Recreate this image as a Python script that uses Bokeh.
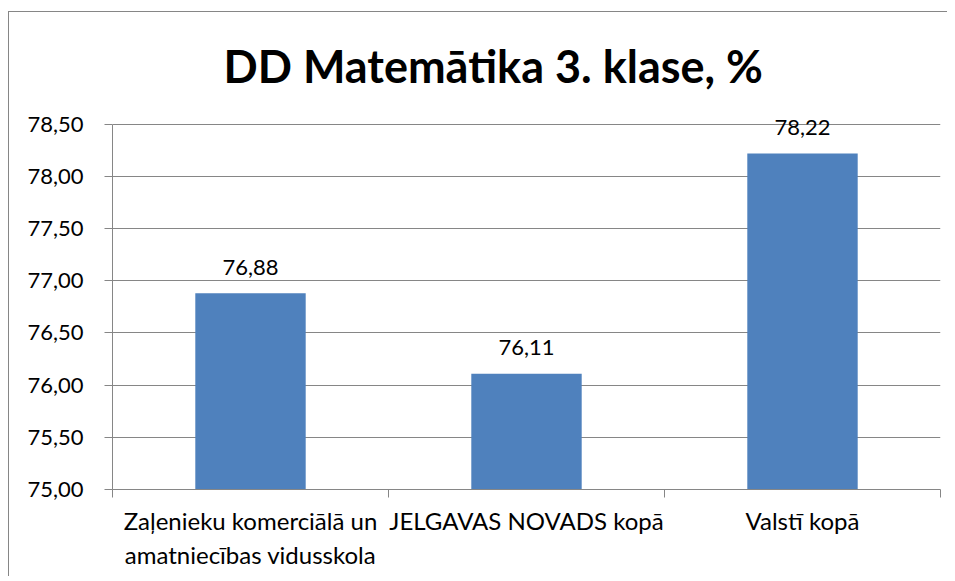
from bokeh.plotting import figure
from bokeh.models import FixedTicker, ColumnDataSource, LabelSet
from bokeh.embed import file_html
from bokeh.resources import INLINE
from bokeh.core.properties import value

categories = ["Zaļenieku komerciālā un\namatniecības vidusskola", "JELGAVAS NOVADS kopā", "Valstī kopā"]
values = [76.88, 76.11, 78.22]
value_labels = ["76,88", "76,11", "78,22"]
y_ticks = [75.0, 75.5, 76.0, 76.5, 77.0, 77.5, 78.0, 78.5]
y_tick_labels = ["75,00", "75,50", "76,00", "76,50", "77,00", "77,50", "78,00", "78,50"]

FONT = "Lato"
GRAY = "#868686"
BAR = "#4F81BD"

xs = [i + 0.5 for i in range(len(categories))]
src = ColumnDataSource(dict(x=xs, top=values, lab=value_labels))

p = figure(width=939, height=565, x_range=(0, len(categories)), y_range=(y_ticks[0], 78.65),
           output_backend="svg", toolbar_location=None, tools="",
           min_border_left=103, min_border_right=8, min_border_top=96, min_border_bottom=88,
           title="DD Matemātika 3. klase, %")
p.styles = {"margin-left": "8px", "margin-top": "11px",
            "border-left": "1px solid #868686", "border-top": "1px solid #868686"}
p.outline_line_color = None

p.title.text_font = FONT
p.title.text_font_size = "45px"
p.title.text_font_style = "bold"
p.title.text_color = "black"
p.title.align = "left"
p.title.offset = 111
p.title.standoff = 32

p.vbar(x="x", top="top", bottom=y_ticks[0], width=0.4, source=src, fill_color=BAR, line_color=None)
labels = LabelSet(x="x", y="top", text="lab", source=src, text_align="center", text_baseline="middle",
                  y_offset=26, text_font=value(FONT), text_font_size=value("22px"), text_color="black")
p.add_layout(labels)

# y axis
p.yaxis.ticker = FixedTicker(ticks=y_ticks)
p.yaxis.bounds = (y_ticks[0], y_ticks[-1])
p.yaxis.major_label_overrides = dict(zip(y_ticks, y_tick_labels))
p.yaxis.axis_line_color = GRAY
p.yaxis.major_tick_line_color = GRAY
p.yaxis.major_tick_out = 8
p.yaxis.major_tick_in = 0
p.yaxis.minor_tick_line_color = None
p.yaxis.major_label_standoff = 21
p.yaxis.major_label_text_font = FONT
p.yaxis.major_label_text_font_size = "22px"
p.yaxis.major_label_text_color = "black"

# x axis
p.xaxis.ticker = FixedTicker(ticks=xs, minor_ticks=list(range(len(categories) + 1)))
p.xaxis.major_label_overrides = dict(zip(xs, categories))
p.xaxis.axis_line_color = GRAY
p.xaxis.major_tick_line_color = None
p.xaxis.minor_tick_line_color = GRAY
p.xaxis.minor_tick_out = 8
p.xaxis.minor_tick_in = 0
p.xaxis.major_label_standoff = 8
p.xaxis.major_label_text_font = FONT
p.xaxis.major_label_text_font_size = "24px"
p.xaxis.major_label_text_line_height = 1.2
p.xaxis.major_label_text_color = "black"

p.xgrid.grid_line_color = None
p.ygrid.grid_line_color = GRAY
p.ygrid.ticker = FixedTicker(ticks=y_ticks)

open("out.html", "w").write(file_html(p, INLINE))
